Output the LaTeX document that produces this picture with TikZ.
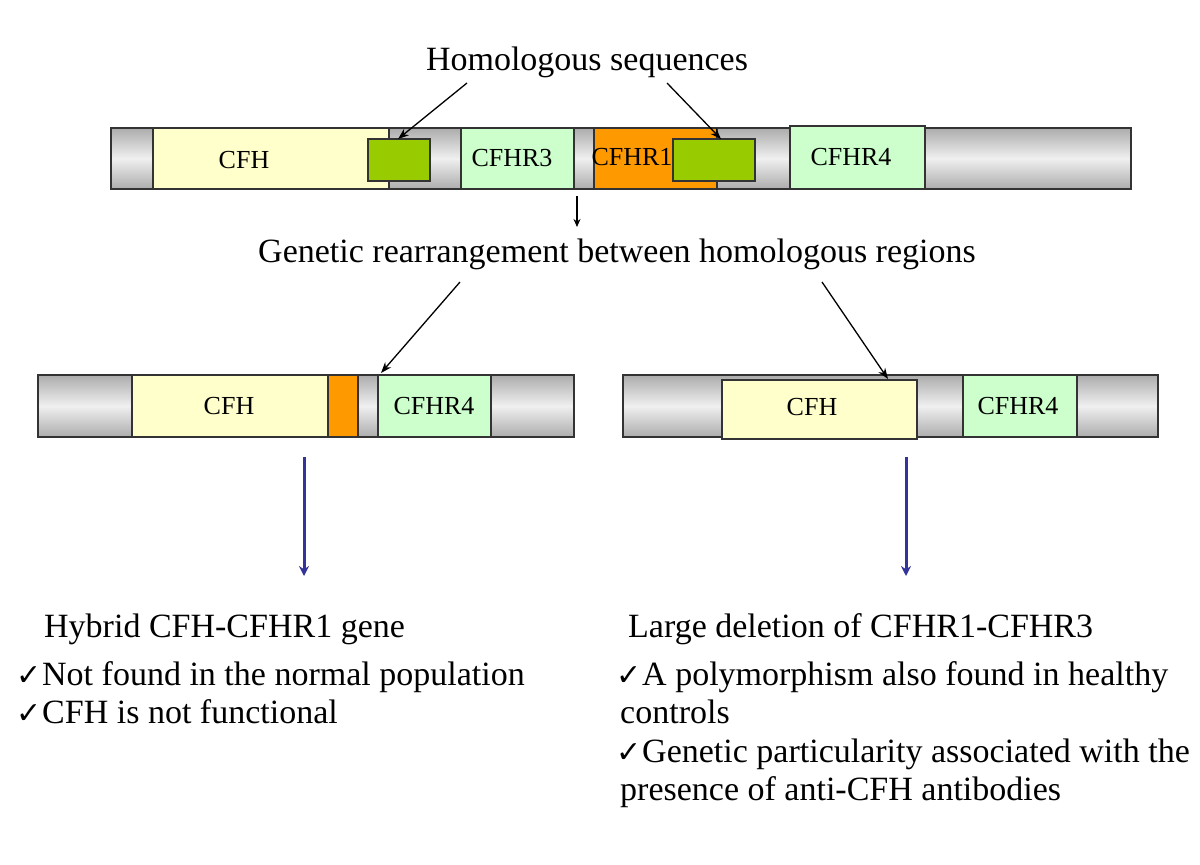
\documentclass[tikz,border=0pt]{standalone}
\usepackage{fontspec}
\setmainfont{Liberation Serif}
\newfontfamily\symfont{DejaVu Sans}
\usetikzlibrary{arrows.meta}
\definecolor{cfhyellow}{HTML}{FFFFCC}
\definecolor{rgreen}{HTML}{CCFFCC}
\definecolor{rorange}{HTML}{FF9900}
\definecolor{hgreen}{HTML}{99CC00}
\definecolor{arrblue}{HTML}{333399}
\definecolor{edge}{HTML}{333333}
\newcommand\seg[7]{\node[#6, minimum width={#4-#2}, minimum height={#5-#3}] (#1) at ({(#2+#4)/2},{(#3+#5)/2}) {#7};}
\tikzset{
  barbox/.style={draw=edge, line width=1.2pt, inner sep=0pt, outer sep=0pt, top color=gray!65, bottom color=gray!65, middle color=gray!12},
  segbox/.style={draw=edge, line width=1.2pt, inner sep=0pt, outer sep=0pt, fill=#1},
  seglabel/.style={inner sep=0pt, font=\fontsize{26}{30}\selectfont},
  bigtext/.style={inner sep=0pt, font=\fontsize{34}{38}\selectfont},
  listtext/.style={inner sep=0pt, anchor=base west, font=\fontsize{34}{38}\selectfont},
  checkmark/.style={inner sep=0pt, anchor=base west, font=\symfont\fontsize{30}{32}\selectfont},
  blackarrow/.style={line width=1.3pt, -{Stealth[length=11pt,width=8pt]}},
  bluearrow/.style={line width=3pt, draw=arrblue, -{Stealth[length=10pt,width=10pt]}}
}
\begin{document}
\begin{tikzpicture}[x=1pt,y=-1pt]
\useasboundingbox (0,0) rectangle (1200,865);
% title
\node[bigtext, anchor=base] (title) at (587,70) {Homologous sequences};
% top bar
\seg{topbar}{111}{128}{1131}{189}{barbox}{}
\seg{tcfh}{153}{128}{389}{189}{segbox=cfhyellow}{}
\seg{tr3}{461}{128}{574}{189}{segbox=rgreen}{}
\seg{tr1}{594}{128}{717}{189}{segbox=rorange}{}
\seg{tr4}{790}{126}{925}{189}{segbox=rgreen}{}
\node[seglabel] (lcfh) at (244,160) {CFH};
\node[seglabel] (lr3) at (512,158) {CFHR3};
\node[seglabel] (lr1) at (632,157) {CFHR1};
\node[seglabel] (lr4) at (851,157) {CFHR4};
\seg{hom1}{368}{139}{430}{181}{segbox=hgreen}{}
\seg{hom2}{673}{139}{755}{181}{segbox=hgreen}{}
\coordinate (a1s) at (467,83);
\coordinate (a1e) at (398,139);
\coordinate (a2s) at (667,83);
\coordinate (a2e) at (721,139);
\draw[blackarrow] (a1s) -- (a1e);
\draw[blackarrow] (a2s) -- (a2e);
% small arrow
\coordinate (sa) at (577,196);
\coordinate (sb) at (577,227);
\draw[line width=1.3pt, -{Stealth[length=8pt,width=7pt]}] (sa) -- (sb);
% rearrangement text
\node[bigtext, anchor=base] (gen) at (617,262) {Genetic rearrangement between homologous regions};
\coordinate (g1s) at (460,282);
\coordinate (g2s) at (822,282);
% left bar
\seg{lbar}{38}{375}{574}{437}{barbox}{}
\seg{lcfhb}{132}{375}{328}{437}{segbox=cfhyellow}{}
\seg{lorb}{328}{375}{358}{437}{segbox=rorange}{}
\seg{lr4b}{378}{375}{491}{437}{segbox=rgreen}{}
\node[seglabel] (llcfh) at (229,406) {CFH};
\node[seglabel] (llr4) at (434,406) {CFHR4};
% right bar
\seg{rbar}{623}{375}{1158}{437}{barbox}{}
\seg{rcfhb}{722}{380}{917}{439}{segbox=cfhyellow}{}
\seg{rr4b}{963}{375}{1077}{437}{segbox=rgreen}{}
\node[seglabel] (rlcfh) at (812,407) {CFH};
\node[seglabel] (rlr4) at (1018,406) {CFHR4};
\coordinate (g1e) at (381,373);
\coordinate (g2e) at (888,379);
\draw[blackarrow] (g1s) -- (g1e);
\draw[blackarrow] (g2s) -- (g2e);
% blue arrows
\coordinate (b1s) at (304,457);
\coordinate (b1e) at (304,576);
\coordinate (b2s) at (906,457);
\coordinate (b2e) at (906,576);
\draw[bluearrow] (b1s) -- (b1e);
\draw[bluearrow] (b2s) -- (b2e);
% result texts
\node[listtext] (hyb) at (44,637) {Hybrid CFH-CFHR1 gene};
\node[listtext] (del) at (628,637) {Large deletion of CFHR1-CFHR3};
\node[checkmark] (c1) at (16,685) {✓};
\node[listtext] (l1) at (42,685) {Not found in the normal population};
\node[checkmark] (c2) at (16,723) {✓};
\node[listtext] (l2) at (42,723) {CFH is not functional};
\node[checkmark] (c3) at (616,685) {✓};
\node[listtext] (r1) at (642,685) {A polymorphism also found in healthy};
\node[listtext] (r2) at (620,723) {controls};
\node[checkmark] (c4) at (616,762) {✓};
\node[listtext] (r3) at (642,762) {Genetic particularity associated with the};
\node[listtext] (r4) at (620,800) {presence of anti-CFH antibodies};
\end{tikzpicture}
\end{document}
